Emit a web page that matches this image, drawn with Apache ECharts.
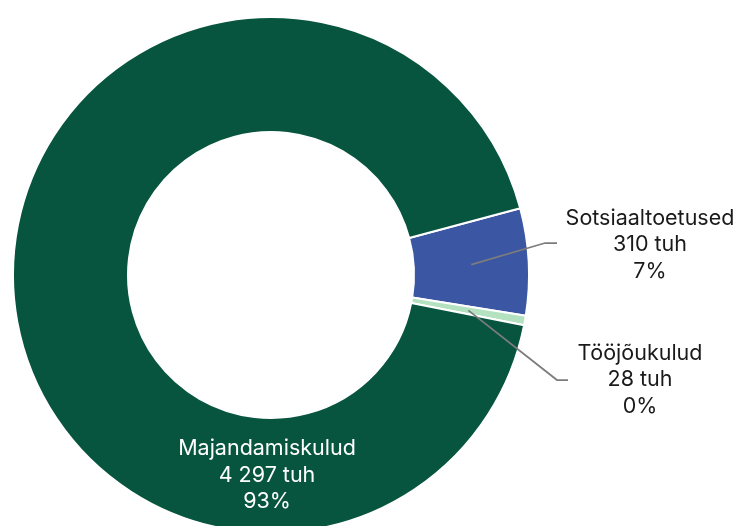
<!DOCTYPE html>
<html>
<head>
<meta charset="utf-8">
<script src="https://cdn.jsdelivr.net/npm/echarts@6/dist/echarts.min.js"></script>
<style>
  html, body { margin: 0; padding: 0; background: #ffffff; }
  #chart { width: 738px; height: 526px; }
</style>
</head>
<body>
<div id="chart"></div>
<script>
// Expense categories (thousand euros), drawn clockwise
const categories = ['Sotsiaaltoetused', 'Tööjõukulud', 'Majandamiskulud'];
const values = [310, 28, 4297];
const colors = ['#3B56A2', '#B4E2C0', '#07553F'];

// Ring geometry
const CX = 271, CY = 275, R_IN = 143, R_OUT = 258, START_ANGLE = 15;
const R_MID = (R_IN + R_OUT) / 2;

const total = values.reduce((a, b) => a + b, 0);

function midAngle(i) {
  let cum = 0;
  for (let k = 0; k < i; k++) cum += values[k];
  return START_ANGLE - (cum + values[i] / 2) / total * 360;
}
function ringPoint(i, r) {
  const a = midAngle(i) * Math.PI / 180;
  return [CX + r * Math.cos(a), CY - r * Math.sin(a)];
}
function thousands(v) {
  return String(v).replace(/\B(?=(\d{3})+(?!\d))/g, ' ');
}

// Callout placement for the two small slices; the large slice is labelled inside the ring
const callouts = {
  0: { x: 650, y: 245, elbow: [545, 243], end: [557, 243] },
  1: { x: 640, y: 380, elbow: [557, 380], end: [568, 380] }
};

const ringBase = {
  type: 'pie',
  center: [CX, CY],
  radius: [R_IN, R_OUT],
  startAngle: START_ANGLE,
  clockwise: true,
  percentPrecision: 0,
  avoidLabelOverlap: false,
  emphasis: { disabled: true },
  silent: true
};

const chart = echarts.init(document.getElementById('chart'), null, { renderer: 'canvas' });

chart.setOption({
  backgroundColor: '#ffffff',
  animation: false,
  series: [
    // Coloured ring
    Object.assign({}, ringBase, {
      z: 2,
      itemStyle: { borderColor: '#ffffff', borderWidth: 2 },
      label: { show: false },
      labelLine: { show: false },
      data: categories.map((name, i) => ({
        name: name, value: values[i], itemStyle: { color: colors[i] }
      }))
    }),
    // Transparent copy on top that carries the labels and leader lines
    Object.assign({}, ringBase, {
      z: 3,
      itemStyle: { color: 'rgba(0,0,0,0)', borderWidth: 0 },
      label: {
        show: true,
        position: 'outside',
        fontFamily: 'Inter',
        fontSize: 21.5,
        lineHeight: 26.5,
        color: '#1a1a1a',
        align: 'center',
        formatter: p => p.name + '\n' + thousands(p.value) + ' tuh\n' + p.percent + '%'
      },
      labelLine: {
        show: true,
        showAbove: true,
        lineStyle: { color: '#7c7c7c', width: 1.75 }
      },
      labelLayout: function (params) {
        const i = params.dataIndex;
        if (callouts[i]) {
          const c = callouts[i];
          return {
            x: c.x, y: c.y, align: 'center', verticalAlign: 'middle',
            labelLinePoints: [ringPoint(i, R_MID), c.elbow, c.end]
          };
        }
        return { x: CX - 4, y: CY + R_MID, align: 'center', verticalAlign: 'middle' };
      },
      data: categories.map((name, i) => ({
        name: name,
        value: values[i],
        label: i === 2 ? { position: 'inside', color: '#ffffff' } : undefined,
        labelLine: i === 2 ? { show: false } : undefined
      }))
    })
  ]
});
</script>
</body>
</html>
